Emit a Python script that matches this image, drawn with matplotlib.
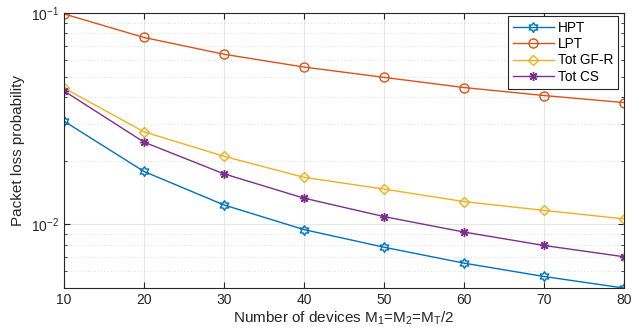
import matplotlib
matplotlib.use('Agg')
import matplotlib.pyplot as plt
import numpy as np
from matplotlib.ticker import NullFormatter, LogLocator

plt.rcParams['font.family'] = ['Liberation Sans', 'DejaVu Sans']
plt.rcParams['mathtext.fontset'] = 'custom'
plt.rcParams['mathtext.rm'] = 'Liberation Sans'
plt.rcParams['mathtext.it'] = 'Liberation Sans'

# data
devices = [10, 20, 30, 40, 50, 60, 70, 80]
hpt = [0.0308, 0.0178, 0.01236, 0.00945, 0.0078, 0.00656, 0.00567, 0.0050]
lpt = [0.099, 0.0766, 0.0638, 0.0555, 0.0496, 0.0444, 0.0407, 0.0377]
tot_gfr = [0.0442, 0.0274, 0.0210, 0.0167, 0.01469, 0.01282, 0.01165, 0.01062]
tot_cs = [0.0428, 0.0245, 0.01734, 0.01331, 0.01089, 0.0092, 0.00795, 0.00703]

labels = ['HPT', 'LPT', 'Tot GF-R', 'Tot CS']
colors = ['#0072BD', '#D95319', '#EDB120', '#7E2F8E']

# hexagram marker (MATLAB 'h')
ang = np.pi / 2 + np.arange(12) * np.pi / 6
rad = np.where(np.arange(12) % 2 == 0, 1.0, 1.0 / np.sqrt(3))
hexagram = list(zip(rad * np.cos(ang), rad * np.sin(ang)))
hexagram.append(hexagram[0])

fig = plt.figure(figsize=(6.41, 3.33), dpi=100)
ax = fig.add_axes([0.0998, 0.135, 0.8736, 0.826])

ax.plot(devices, hpt, color=colors[0], marker=hexagram, markersize=7,
        markerfacecolor='none', lw=1, label=labels[0])
ax.plot(devices, lpt, color=colors[1], marker='o', markersize=6.5,
        markerfacecolor='none', lw=1, label=labels[1])
ax.plot(devices, tot_gfr, color=colors[2], marker='D', markersize=5.5,
        markerfacecolor='none', lw=1, label=labels[2])
ax.plot(devices, tot_cs, color=colors[3], marker=(8, 2, 0), markersize=6.5,
        lw=1, label=labels[3])

ax.set_yscale('log')
ax.set_ylim(0.005, 0.1)
ax.set_xlim(10, 80)
ax.set_xticks(devices)
ax.yaxis.set_minor_locator(LogLocator(base=10, subs=np.arange(2, 10)))
ax.yaxis.set_minor_formatter(NullFormatter())

ax.grid(True, which='major', color='#e6e6e6', lw=0.8, ls='-')
ax.grid(True, which='minor', axis='y', color='#d0d0d0', lw=0.6, ls=(0, (1, 3)))
ax.set_axisbelow(True)

ax.tick_params(which='both', direction='in', top=True, right=True,
               colors='#262626', labelsize=10)
ax.tick_params(which='major', length=4)
ax.tick_params(which='minor', length=2.5)
for s in ax.spines.values():
    s.set_color('#262626')
    s.set_linewidth(0.8)

ax.set_xlabel('Number of devices M$_1$=M$_2$=M$_T$/2', fontsize=11, color='#262626', labelpad=2)
ax.set_ylabel('Packet loss probability', fontsize=11, color='#262626', labelpad=4)

leg = ax.legend(loc='upper right', bbox_to_anchor=(0.989, 0.99), fontsize=9.8,
                fancybox=False, edgecolor='#262626', framealpha=1, handlelength=3.0,
                borderaxespad=0, labelspacing=0.18, handletextpad=0.3, borderpad=0.35)
leg.get_frame().set_linewidth(0.8)

fig.savefig('out.png', dpi=100)
